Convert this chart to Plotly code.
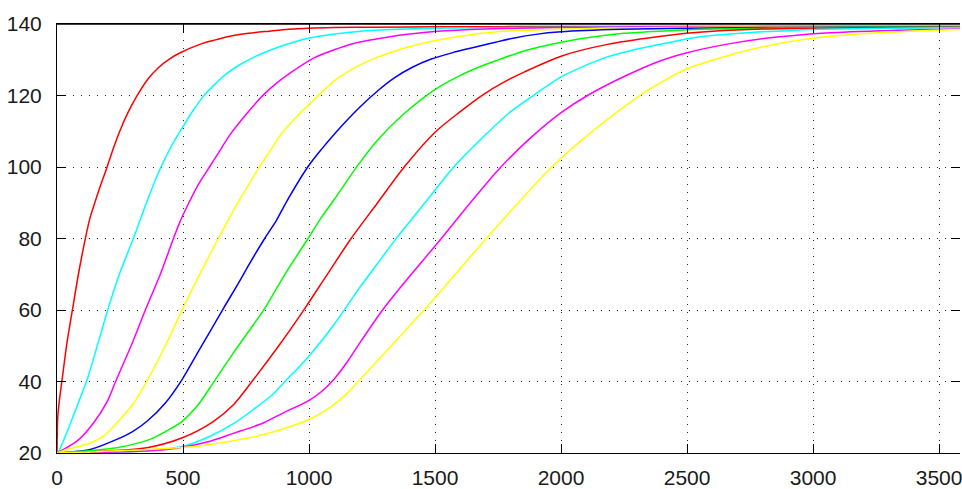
import plotly.graph_objects as go

# ---- data (x = time, y = value) ----
c1_x = [0, 3, 10, 20, 40, 62, 85, 111, 130, 150, 175, 194, 220, 249, 280, 315, 361, 401, 450, 493, 567, 620, 686, 760, 844, 920, 997, 1100, 1250, 1500, 2000, 2500, 3000, 3600]
c1_y = [20, 30, 35, 40.4, 51, 60.4, 70, 79.5, 85.5, 90, 95.3, 99, 104.5, 110, 115, 119.6, 124.6, 127.7, 130.4, 132.1, 134.3, 135.4, 136.6, 137.4, 138.0, 138.5, 138.8, 139.0, 139.1, 139.2, 139.3, 139.3, 139.3, 139.3]

c2_x = [0, 7, 33, 60, 90, 119, 160, 203, 250, 303, 355, 408, 455, 500, 540, 582, 630, 673, 725, 778, 840, 897, 997, 1100, 1195, 1350, 1500, 1800, 2200, 2800, 3600]
c2_y = [20, 20.5, 24.7, 29.5, 35, 40.4, 50, 60.4, 70.5, 80, 90, 99.3, 106, 111.3, 115.8, 119.9, 123.4, 126.1, 128.6, 130.6, 132.5, 134.0, 136.0, 137.2, 137.9, 138.5, 138.8, 139.0, 139.2, 139.3, 139.3]

c3_x = [0, 13, 79, 145, 200, 235, 300, 353, 410, 462, 490, 520, 560, 605, 650, 686, 750, 818, 870, 923, 1022, 1100, 1174, 1250, 1327, 1400, 1498, 1700, 2000, 2500, 3000, 3600]
c3_y = [20, 20.5, 23.3, 28.4, 34.5, 40.4, 51, 60.4, 70, 80, 85, 89.5, 95, 100, 105, 109, 114.7, 120.1, 123.4, 126.2, 130.6, 132.8, 134.5, 135.6, 136.5, 137.2, 137.9, 138.6, 139.0, 139.2, 139.3, 139.3]

c4_x = [0, 40, 132, 190, 237, 300, 359, 430, 499, 570, 640, 719, 760, 805, 850, 890, 940, 997, 1035, 1108, 1195, 1260, 1327, 1400, 1498, 1600, 1723, 1850, 1986, 2200, 2600, 3000, 3600]
c4_y = [20, 21, 22.8, 25, 28.4, 33.5, 40.4, 50, 60.4, 70.5, 80, 90.2, 95, 100.2, 105, 109.3, 113.3, 117.3, 119.9, 124.5, 128.3, 130.4, 132.1, 133.7, 135.3, 136.6, 137.7, 138.2, 138.5, 138.9, 139.1, 139.2, 139.3]

c5_x = [0, 132, 237, 300, 356, 430, 495, 560, 600, 660, 720, 760, 824, 870, 910, 997, 1050, 1108, 1195, 1274, 1340, 1410, 1485, 1570, 1657, 1740, 1815, 1900, 2000, 2237, 2600, 3000, 3600]
c5_y = [20, 21, 23.8, 26, 28.8, 34, 40.4, 48.3, 53.1, 60.4, 67.5, 72.5, 80, 85, 90.2, 100.2, 105, 109.8, 116.3, 121.4, 125.0, 127.9, 130.2, 132.0, 133.5, 134.9, 136.1, 137.1, 137.8, 138.5, 138.9, 139.1, 139.2]

c6_x = [0, 237, 369, 430, 495, 560, 627, 700, 760, 824, 900, 996, 1050, 1100, 1195, 1274, 1380, 1498, 1591, 1680, 1749, 1850, 1986, 2118, 2250, 2390, 2600, 2900, 3300, 3600]
c6_y = [20, 21.5, 23.8, 26, 28.8, 33.5, 40.4, 48, 54, 60.4, 69.5, 80, 86, 90.9, 100.6, 107.7, 115.1, 121.6, 125.3, 128.1, 129.9, 132.4, 134.7, 136.3, 137.4, 138.0, 138.6, 138.9, 139.1, 139.2]

c7_x = [0, 356, 495, 620, 700, 778, 880, 983, 1070, 1167, 1270, 1380, 1498, 1600, 1690, 1775, 1855, 2000, 2184, 2390, 2496, 2601, 2800, 3100, 3600]
c7_y = [20, 21.5, 24.2, 28.8, 33.5, 40.4, 50, 60.4, 69.7, 80, 89.8, 100.2, 109.6, 115.5, 120.2, 123.8, 126.6, 131.0, 134.3, 136.5, 137.4, 138.0, 138.6, 138.9, 139.1]

c8_x = [0, 330, 501, 607, 700, 778, 850, 910, 996, 1100, 1195, 1270, 1347, 1460, 1577, 1700, 1800, 1894, 2000, 2100, 2184, 2290, 2390, 2522, 2620, 2720, 2917, 3023, 3300, 3600]
c8_y = [20, 20.5, 21.9, 24.7, 28.2, 32.1, 36, 40.4, 46.8, 56, 65.7, 72.8, 80.1, 90, 100.2, 109, 115.5, 120.2, 125.2, 128.5, 130.8, 132.8, 134.3, 136.1, 136.9, 137.5, 138.2, 138.5, 138.8, 139.0]

c9_x = [0, 435, 607, 700, 818, 900, 997, 1050, 1101, 1150, 1195, 1294, 1400, 1525, 1640, 1756, 1880, 2000, 2105, 2250, 2390, 2496, 2654, 2812, 3050, 3313, 3600]
c9_y = [20, 21, 23.3, 25.5, 28.4, 31.3, 34.6, 37.2, 40.8, 45.3, 50.1, 60.2, 69.5, 80, 90, 99.6, 108.2, 115.2, 120, 125.3, 129.6, 131.9, 134.3, 136.0, 137.5, 138.2, 138.6]

c10_x = [0, 554, 791, 900, 997, 1050, 1100, 1150, 1195, 1330, 1459, 1580, 1703, 1830, 1960, 2130, 2316, 2390, 2496, 2654, 2812, 2997, 3181, 3379, 3600]
c10_y = [20, 21.9, 24.7, 26.8, 29.3, 31.2, 33.6, 36.6, 40.0, 50.3, 60.2, 70, 80, 90, 99.8, 110.3, 120.2, 123.4, 127.4, 131.0, 133.8, 136.0, 137.2, 138.0, 138.5]

series_x = [c1_x, c2_x, c3_x, c4_x, c5_x, c6_x, c7_x, c8_x, c9_x, c10_x]
series_y = [c1_y, c2_y, c3_y, c4_y, c5_y, c6_y, c7_y, c8_y, c9_y, c10_y]
colors = ["#FF0000", "#00FFFF", "#FF00FF", "#FFFF00", "#0000FF",
          "#00FF00", "#FF0000", "#00FFFF", "#FF00FF", "#FFFF00"]

x_ticks = [0, 500, 1000, 1500, 2000, 2500, 3000, 3500]
y_ticks = [20, 40, 60, 80, 100, 120, 140]
x_range = [0, 3583]
y_range = [20, 140]

fig = go.Figure()
for xs, ys, c in zip(series_x, series_y, colors):
    fig.add_trace(go.Scatter(x=xs, y=ys, mode="lines",
                             line=dict(color=c, width=1.5, shape="spline", smoothing=0.8),
                             showlegend=False, hoverinfo="skip"))

# empty trace so the overlay (top / right) axes get drawn
fig.add_trace(go.Scatter(x=[], y=[], xaxis="x2", yaxis="y2", showlegend=False, hoverinfo="skip"))

tickfont = dict(family="Liberation Sans, Arial, sans-serif", size=21, color="#1a1a1a")
grid = dict(showgrid=True, gridcolor="#222222", gridwidth=1, griddash="1px,7px")
tk = dict(ticks="inside", ticklen=9, tickwidth=1.2, tickcolor="black")

fig.update_layout(
    width=962, height=489,
    margin=dict(l=57, r=0, t=24, b=31),
    paper_bgcolor="white", plot_bgcolor="white",
    showlegend=False,
    xaxis=dict(range=x_range, tickvals=x_ticks, ticktext=[str(v) for v in x_ticks],
               showline=True, linecolor="black", linewidth=1, ticklabeloverflow="allow",
               zeroline=False, tickfont=tickfont, ticklabelstandoff=6, **tk, **grid),
    yaxis=dict(range=y_range, tickvals=y_ticks, ticktext=[str(v) for v in y_ticks],
               showline=True, linecolor="black", linewidth=1,
               zeroline=False, tickfont=tickfont, ticklabelstandoff=10, **tk, **grid),
    xaxis2=dict(range=x_range, tickvals=x_ticks, overlaying="x", side="top", anchor="y",
                showline=True, linecolor="black", linewidth=1, showticklabels=False,
                showgrid=False, zeroline=False, **tk),
    yaxis2=dict(range=y_range, tickvals=y_ticks, overlaying="y", side="right", anchor="x",
                showline=False, showticklabels=False,
                showgrid=False, zeroline=False, **tk),
    shapes=[dict(type="line", xref="paper", yref="paper", x0=0, x1=1, y0=1, y1=1,
                 line=dict(color="black", width=1.5), layer="above")],
)

fig.write_html("out.html")
